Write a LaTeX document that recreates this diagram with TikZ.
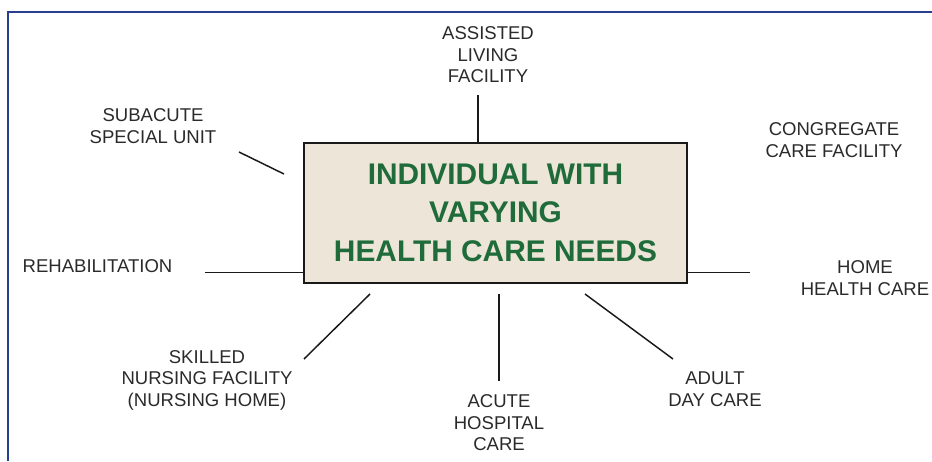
\documentclass[tikz,border=0pt]{standalone}
\usepackage{fontspec}
\setmainfont{Liberation Sans}
\usetikzlibrary{positioning}
\definecolor{frameblue}{HTML}{283F8F}
\definecolor{needgreen}{HTML}{1F6B3A}
\definecolor{boxfill}{HTML}{EDE5D8}
\definecolor{textgray}{HTML}{2A2A2A}
\tikzset{
    x=0.75pt, y=-0.75pt, % one unit is one pixel of the layout
    needs/.style={draw=black!90, line width=1.5pt, fill=boxfill, minimum width=287pt, minimum height=105pt, inner sep=0pt, align=center, text=needgreen, font=\bfseries\fontsize{22.4}{28.9}\selectfont}, % the central box
    place/.style={align=center, inner sep=0pt, text=textgray, font=\fontsize{13.9}{16.1}\selectfont}, % a kind of care
    link/.style={draw=black!90, line width=1.1pt}, % the plain spokes
}
\begin{document}
\begin{tikzpicture}
    \useasboundingbox (0,0) rectangle (932,461);
    \draw[frameblue, line width=1.7pt] (8,461) -- (8,12) -- (932,12);

    \node[needs] (need) at (495.5,212.5) {INDIVIDUAL WITH\\VARYING\\HEALTH CARE NEEDS};

    \node[place] (asst) at (488,55) {ASSISTED\\LIVING\\FACILITY};
    \node[place] (subac) at (153,126) {SUBACUTE\\SPECIAL UNIT};
    \node[place] (congr) at (834,140) {CONGREGATE\\CARE FACILITY};
    \node[place] (rehab) at (97.5,266) {REHABILITATION};
    \node[place] (home) at (865,278) {HOME\\HEALTH CARE};
    \node[place] (skill) at (207,380) {SKILLED\\NURSING FACILITY\\(NURSING HOME)};
    \node[place] (acute) at (499,423) {ACUTE\\HOSPITAL\\CARE};
    \node[place] (adult) at (715,389) {ADULT\\DAY CARE};

    % free ends of the spokes
    \coordinate (asst-end) at (478,95);
    \coordinate (subac-a) at (239,152);
    \coordinate (subac-b) at (284,174);
    \coordinate (rehab-end) at (205,272.5);
    \coordinate (home-end) at (750,272.5);
    \coordinate (skill-a) at (304,359);
    \coordinate (skill-b) at (370,294);
    \coordinate (acute-a) at (499,294);
    \coordinate (acute-b) at (499,381);
    \coordinate (adult-a) at (585,294);
    \coordinate (adult-b) at (673,359);

    \draw[link] (asst-end) -- (asst-end |- need.north);
    \draw[link] (subac-a) -- (subac-b);
    \draw[link] (rehab-end) -- (rehab-end -| need.west);
    \draw[link] (need.east |- home-end) -- (home-end);
    \draw[link] (skill-a) -- (skill-b);
    \draw[link] (acute-a) -- (acute-b);
    \draw[link] (adult-a) -- (adult-b);
\end{tikzpicture}
\end{document}
